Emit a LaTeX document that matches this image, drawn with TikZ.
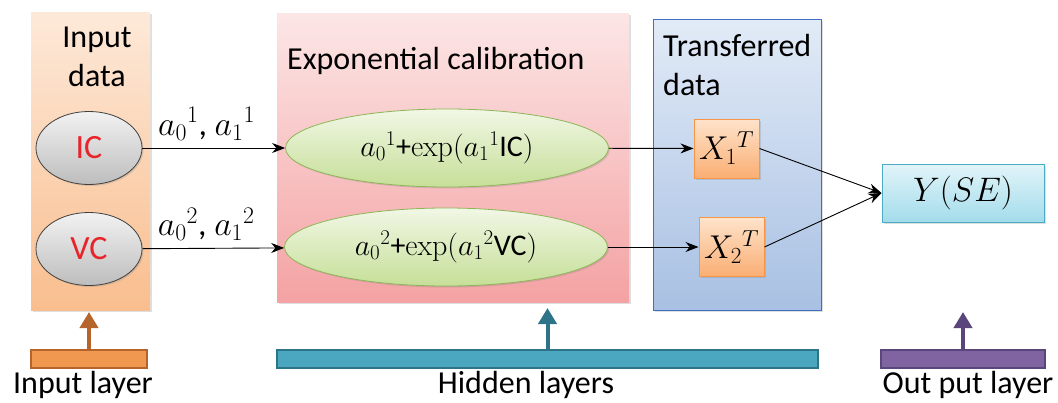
\RequirePackage{fix-cm}
\documentclass[tikz,border=0pt]{standalone}
\usepackage[no-math]{fontspec}
\setmainfont{Carlito}
\usepackage{tikz}
\usetikzlibrary{arrows.meta}
\usetikzlibrary{shapes.geometric}
\usetikzlibrary{shadows}
\tikzset{>={Stealth[length=13pt,width=10pt]}}

\definecolor{inTop}{HTML}{FDE9D9}
\definecolor{inBot}{HTML}{F9BE8E}
\definecolor{hidTop}{HTML}{FCE6E6}
\definecolor{hidBot}{HTML}{F4A2A3}
\definecolor{trTop}{HTML}{E2EBF7}
\definecolor{trBot}{HTML}{A8C0E3}
\definecolor{trLine}{HTML}{3E6FC1}
\definecolor{grTop}{HTML}{F2F2F2}
\definecolor{grBot}{HTML}{BDBDBD}
\definecolor{exTop}{HTML}{F1F7E5}
\definecolor{exBot}{HTML}{C6DF98}
\definecolor{exLine}{HTML}{8DB657}
\definecolor{xTop}{HTML}{FEE3CB}
\definecolor{xBot}{HTML}{FAAE73}
\definecolor{xLine}{HTML}{F79646}
\definecolor{yTop}{HTML}{E2F4F9}
\definecolor{yBot}{HTML}{A3DCEB}
\definecolor{yLine}{HTML}{4BACC6}
\definecolor{barIn}{HTML}{F0984F}
\definecolor{barInD}{HTML}{B5652C}
\definecolor{barHid}{HTML}{4BA6BF}
\definecolor{barHidD}{HTML}{2D7488}
\definecolor{barOut}{HTML}{8064A2}
\definecolor{barOutD}{HTML}{5A467A}
\definecolor{icRed}{HTML}{E8232A}

\tikzset{
  dshadow/.style={drop shadow={opacity=0.25,shadow xshift=1.5pt,shadow yshift=-1.5pt}},
  layer/.style={rectangle,inner sep=0pt,dshadow},
  invar/.style={ellipse,draw=black!75,line width=0.8pt,top color=grTop,bottom color=grBot,
    inner sep=0pt,minimum width=106pt,minimum height=73pt,dshadow,
    font=\fontsize{34}{40}\selectfont,text=icRed},
  expo/.style={ellipse,draw=exLine,line width=0.8pt,top color=exTop,bottom color=exBot,
    inner sep=0pt,minimum width=323pt,minimum height=78pt,dshadow,
    font=\fontsize{30}{36}\selectfont},
  xbox/.style={rectangle,draw=xLine,line width=1pt,top color=xTop,bottom color=xBot,
    inner sep=0pt,minimum width=65pt,minimum height=59pt,dshadow,
    font=\fontsize{33}{38}\selectfont},
  bar/.style={rectangle,line width=1.6pt,inner sep=0pt,minimum height=18pt},
  uparrow/.style={line width=4pt,-{Triangle[length=16pt,width=18pt]}},
  txt/.style={font=\fontsize{32}{39}\selectfont,inner sep=0pt},
  coef/.style={pos=0.45,above=4pt,font=\fontsize{34}{40}\selectfont}
}

\begin{document}
\begin{tikzpicture}[x=1pt,y=-1pt]
    \useasboundingbox (0,0) rectangle (1058,402);
    % layer boxes
    \node[layer,top color=inTop,bottom color=inBot,minimum width=119pt,minimum height=298pt] (inbox) at (90.5,161) {};
    \node[layer,top color=hidTop,bottom color=hidBot,minimum width=352pt,minimum height=289pt] (hidbox) at (453,157.5) {};
    \node[layer,draw=trLine,line width=1pt,top color=trTop,bottom color=trBot,minimum width=168pt,minimum height=291pt] (trbox) at (737,164.5) {};
    \node[txt,align=center,anchor=north] (intitle) at (97,27) {Input\\data};
    \node[txt,anchor=base west] (hidtitle) at (287,69) {Exponential calibration};
    \node[txt,align=left,anchor=north west] (trtitle) at (663,34) {Transferred\\data};
    % nodes
    \node[invar] (ic) at (89,148) {IC};
    \node[invar] (vc) at (89,249) {VC};
    \node[expo] (e1) at (447,148) {$a_0{}^1$+$\mathrm{exp}(a_1{}^1$IC$)$};
    \node[expo] (e2) at (446,247) {$a_0{}^2$+$\mathrm{exp}(a_1{}^2$VC$)$};
    \node[xbox] (x1) at (726.5,148.5) {$X_1{}^T$};
    \node[xbox] (x2) at (731.5,247) {$X_2{}^T$};
    \node[rectangle,draw=yLine,line width=1pt,top color=yTop,bottom color=yBot,inner sep=0pt,
      minimum width=162pt,minimum height=58pt,dshadow,font=\fontsize{34}{40}\selectfont] (y) at (963,193) {$Y(SE)$};
    % connectors
    \draw[->,line width=0.9pt] (ic) -- node[coef] {$a_0{}^1$, $a_1{}^1$} (e1);
    \draw[->,line width=0.9pt] (vc) -- node[coef] {$a_0{}^2$, $a_1{}^2$} (e2);
    \draw[->,line width=0.9pt] (e1) -- (x1);
    \draw[->,line width=0.9pt] (e2) -- (x2);
    \draw[->,line width=0.9pt] (x1.east) -- (y.west);
    \draw[->,line width=0.9pt] (x2.east) -- (y.west);
    % layer bars
    \node[bar,fill=barIn,draw=barInD,minimum width=116pt] (inbar) at (89,359) {};
    \node[bar,fill=barHid,draw=barHidD,minimum width=541pt] (hidbar) at (547.5,359) {};
    \node[bar,fill=barOut,draw=barOutD,minimum width=164pt] (outbar) at (963,359) {};
    \coordinate (intip) at (89,312);
    \coordinate (hidtip) at (547.5,308);
    \coordinate (outtip) at (963,312);
    \draw[uparrow,barInD] (inbar.north) -- (intip);
    \draw[uparrow,barHidD] (hidbar.north) -- (hidtip);
    \draw[uparrow,barOutD] (outbar.north) -- (outtip);
    \node[txt,anchor=base] (inlab) at (83,393) {Input layer};
    \node[txt,anchor=base] (hidlab) at (526,393) {Hidden layers};
    \node[txt,anchor=base] (outlab) at (968,393) {Out put layer};
\end{tikzpicture}
\end{document}
